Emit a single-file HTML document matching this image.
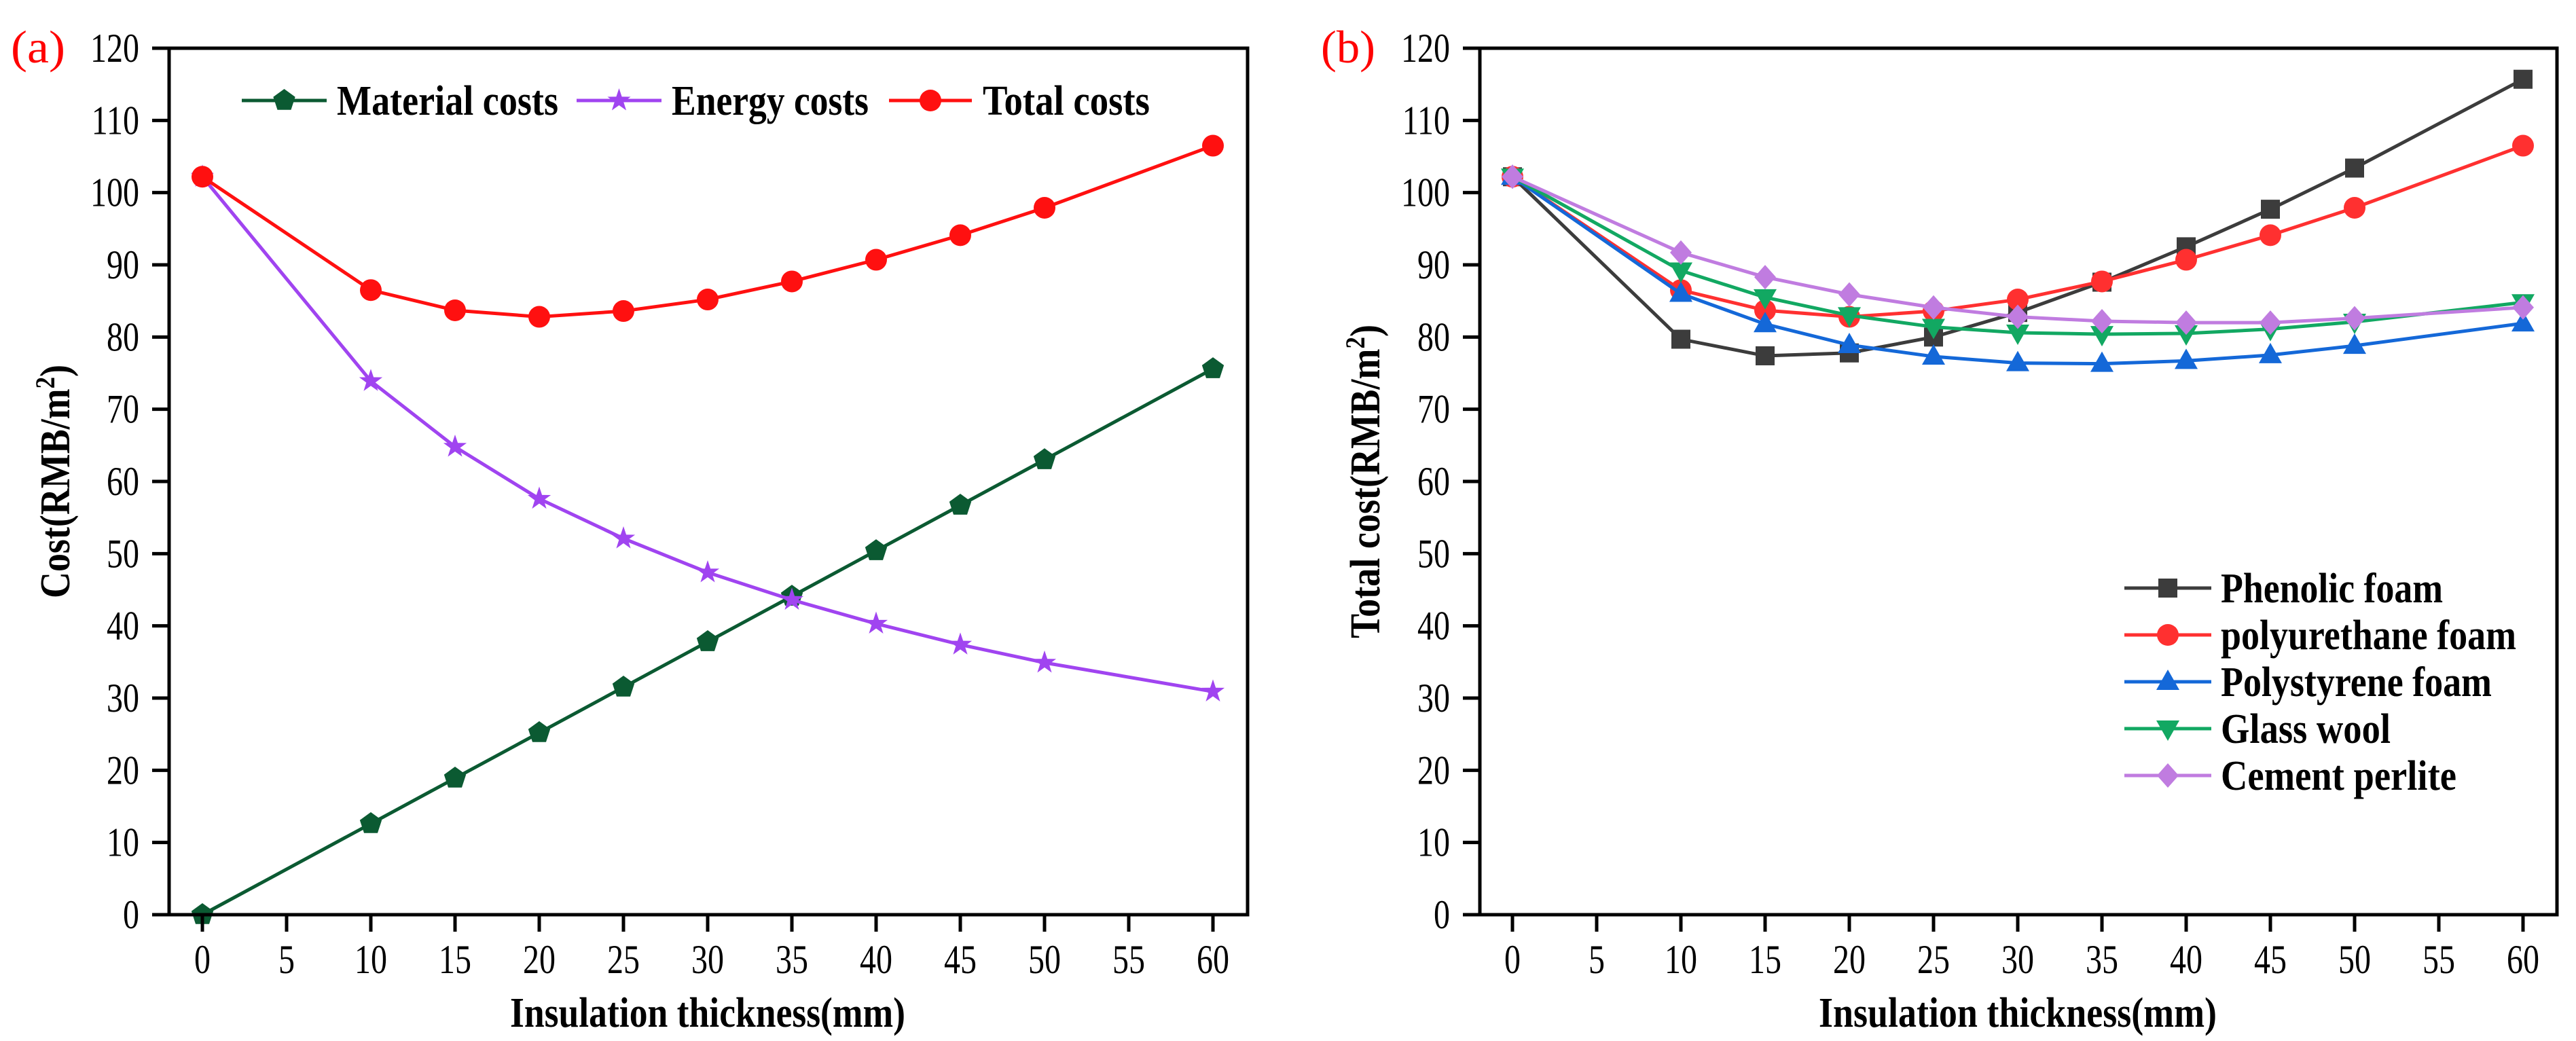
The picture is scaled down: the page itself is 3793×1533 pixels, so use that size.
<!DOCTYPE html>
<html><head><meta charset="utf-8"><style>
html,body{margin:0;padding:0;background:#fff;}
svg{display:block;}
text{font-family:"Liberation Serif","Times New Roman",serif;}
</style></head><body>
<svg id="fig" width="3793" height="1533" viewBox="0 0 3793 1533" xmlns="http://www.w3.org/2000/svg"></svg>
<script>
const xCats = [0,10,15,20,25,30,35,40,45,50,60];
const xTicks = [0,5,10,15,20,25,30,35,40,45,50,55,60];
const yTicks = [0,10,20,30,40,50,60,70,80,90,100,110,120];
const materialCosts = [0,12.6,18.9,25.2,31.5,37.8,44.1,50.4,56.7,63.0,75.6];
const energyCosts = [102.2,73.9,64.8,57.6,52.1,47.4,43.6,40.3,37.4,34.9,30.9];
const totalCosts = [102.2,86.5,83.7,82.8,83.6,85.2,87.7,90.7,94.1,97.9,106.5];
const phenolic = [102.2,79.7,77.4,77.8,80.0,83.4,87.6,92.5,97.7,103.4,115.7];
const polyurethane = [102.2,86.5,83.7,82.8,83.6,85.2,87.7,90.7,94.1,97.9,106.5];
const polystyrene = [102.2,86.0,81.8,78.9,77.3,76.4,76.3,76.7,77.5,78.8,81.9];
const glassWool = [102.2,89.2,85.5,83.0,81.4,80.6,80.4,80.5,81.1,82.1,84.8];
const cementPerlite = [102.2,91.7,88.3,85.9,84.1,82.8,82.2,82.0,82.0,82.6,84.1];

const NS="http://www.w3.org/2000/svg";
const svg=document.getElementById('fig');
function el(tag,attrs,parent){const e=document.createElementNS(NS,tag);for(const k in attrs)e.setAttribute(k,attrs[k]);(parent||svg).appendChild(e);return e;}

function marker(g,type,cx,cy,color){
  let m;const r=16;
  if(type==='circle'){m=el('circle',{cx:cx,cy:cy,r:r,fill:color},g);}
  else if(type==='square'){m=el('rect',{x:cx-14,y:cy-14,width:28,height:28,fill:color},g);}
  else{
    let pts=[];
    if(type==='pentagon'){for(let i=0;i<5;i++){const a=-Math.PI/2+i*2*Math.PI/5;pts.push([cx+17*Math.cos(a),cy+17*Math.sin(a)]);}}
    else if(type==='star'){for(let i=0;i<10;i++){const a=-Math.PI/2+i*Math.PI/5;const rr=i%2?7:18;pts.push([cx+rr*Math.cos(a),cy+rr*Math.sin(a)]);}}
    else if(type==='up'){pts=[[cx,cy-18],[cx+17,cy+12],[cx-17,cy+12]];}
    else if(type==='down'){pts=[[cx,cy+18],[cx+17,cy-12],[cx-17,cy-12]];}
    else if(type==='diamond'){pts=[[cx,cy-18],[cx+16,cy],[cx,cy+18],[cx-16,cy]];}
    m=el('polygon',{points:pts.map(p=>p.join(',')).join(' '),fill:color},g);
  }
  return m;
}

function panel(opt){
  const x0=opt.frameL, x1=opt.frameR, yT=71, yB=1347;
  const px0=opt.zeroX, pxStep=124/5;
  const X=v=>px0+v*pxStep;
  const Y=v=>yB-v*(yB-yT)/120;
  const g=el('g',{});
  
  
  opt.series.forEach(s=>{
    const sg=el('g',{},g);
    
    
    const d=xCats.map((c,i)=>(i?'L':'M')+X(c)+','+Y(s.data[i])).join(' ');
    el('path',{d:d,fill:'none',stroke:s.color,'stroke-width':5,'stroke-linejoin':'round'},sg);
    xCats.forEach((c,i)=>{const m=marker(sg,s.mk,X(c),Y(s.data[i]),s.color);
      
      });
  });
  const fr=el('rect',{x:x0,y:yT,width:x1-x0,height:yB-yT,fill:'none',stroke:'#000','stroke-width':5},g);
  
  
  yTicks.forEach(t=>{
    el('line',{x1:x0-25,x2:x0,y1:Y(t),y2:Y(t),stroke:'#000','stroke-width':5},g);
    const tx=el('text',{transform:'translate('+(x0-44)+','+(Y(t)+20)+') scale(0.8,1)','font-size':60,'text-anchor':'end'},g);
    tx.textContent=t;
    
    
  });
  xTicks.forEach(t=>{
    el('line',{x1:X(t),x2:X(t),y1:yB,y2:yB+25,stroke:'#000','stroke-width':5},g);
    const tx=el('text',{transform:'translate('+X(t)+',1433) scale(0.8,1)','font-size':60,'text-anchor':'middle'},g);
    tx.textContent=t;
    
    
  });
  const xt=el('text',{x:(X(0)+X(60))/2,y:1512,'font-size':62,'font-weight':'bold','text-anchor':'middle',textLength:opt.xtW,lengthAdjust:'spacingAndGlyphs'},g);
  xt.textContent='Insulation thickness(mm)';
  
  
  const yt=el('text',{transform:'translate('+(opt.ytX)+',709) rotate(-90)','font-size':62,'font-weight':'bold','text-anchor':'middle',textLength:opt.ytW,lengthAdjust:'spacingAndGlyphs'},g);
  yt.innerHTML=opt.ytitle+'(RMB/m<tspan baseline-shift="super" font-size="40">2</tspan>)';
  
  
  const lb=el('text',{x:opt.lblX,y:92,'font-size':68,fill:'#ff0000',textLength:80,lengthAdjust:'spacingAndGlyphs'},g);
  lb.textContent=opt.label;
  
  
  opt.legend.forEach(L=>{
    const lg=el('g',{},g);
    
    
    el('line',{x1:L.l1,x2:L.l2,y1:L.y,y2:L.y,stroke:L.color,'stroke-width':5},lg);
    marker(lg,L.mk,(L.l1+L.l2)/2,L.y,L.color);
    const t=el('text',{x:L.tx,y:L.y+21,'font-size':62,'font-weight':'bold',textLength:L.tw,lengthAdjust:'spacingAndGlyphs'},lg);
    t.textContent=L.text;
  });
}

panel({name:'panel-a',frameL:249,frameR:1837,zeroX:298,label:'(a)',lblX:16,ytitle:'Cost',ytX:102,ytW:344,xtW:582,
 series:[
  {name:'material-costs-line',data:materialCosts,color:'#0b5a32',mk:'pentagon'},
  {name:'energy-costs-line',data:energyCosts,color:'#a044f0',mk:'star'},
  {name:'total-costs-line',data:totalCosts,color:'#ff1010',mk:'circle'}],
 legend:[
  {l1:356,l2:481,y:148,color:'#0b5a32',mk:'pentagon',tx:496,tw:326,text:'Material costs'},
  {l1:849,l2:974,y:148,color:'#a044f0',mk:'star',tx:989,tw:290,text:'Energy costs'},
  {l1:1309,l2:1431,y:148,color:'#ff1010',mk:'circle',tx:1447,tw:246,text:'Total costs'}]
});
panel({name:'panel-b',frameL:2179,frameR:3765,zeroX:2227,label:'(b)',lblX:1945,ytitle:'Total cost',ytX:2031,ytW:462,xtW:586,
 series:[
  {name:'phenolic-foam-line',data:phenolic,color:'#3c3c3c',mk:'square'},
  {name:'polyurethane-foam-line',data:polyurethane,color:'#ff3030',mk:'circle'},
  {name:'polystyrene-foam-line',data:polystyrene,color:'#1468d8',mk:'up'},
  {name:'glass-wool-line',data:glassWool,color:'#12a862',mk:'down'},
  {name:'cement-perlite-line',data:cementPerlite,color:'#c07ce0',mk:'diamond'}],
 legend:[
  {l1:3128,l2:3256,y:866,color:'#3c3c3c',mk:'square',tx:3270,tw:327,text:'Phenolic foam'},
  {l1:3128,l2:3256,y:935,color:'#ff3030',mk:'circle',tx:3270,tw:435,text:'polyurethane foam'},
  {l1:3128,l2:3256,y:1004,color:'#1468d8',mk:'up',tx:3270,tw:399,text:'Polystyrene foam'},
  {l1:3128,l2:3256,y:1073,color:'#12a862',mk:'down',tx:3270,tw:250,text:'Glass wool'},
  {l1:3128,l2:3256,y:1142,color:'#c07ce0',mk:'diamond',tx:3270,tw:347,text:'Cement perlite'}]
});
</script>
</body></html>
